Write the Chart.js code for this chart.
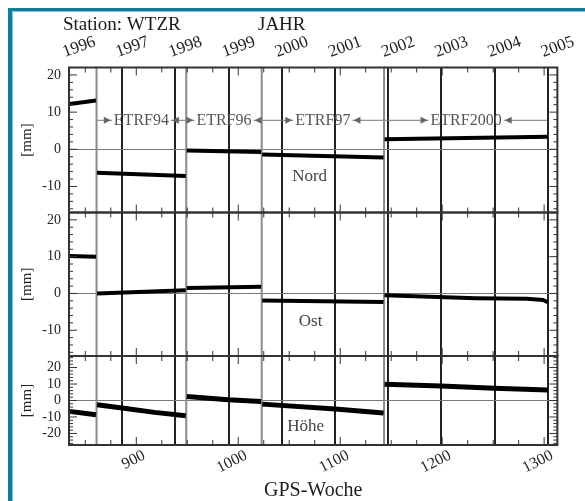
<!DOCTYPE html>
<html><head><meta charset="utf-8">
<script src="https://cdn.jsdelivr.net/npm/chart.js@4.4.0/dist/chart.umd.min.js"></script>
<style>
html,body{margin:0;padding:0;background:#fff;}
#wrap{position:relative;width:585px;height:501px;overflow:hidden;background:#fff;}
#frame{position:absolute;left:8px;top:8px;width:600px;height:520px;border-left:4px solid #137c98;border-top:3px solid #137c98;}
#frame2{position:absolute;left:12px;top:11px;width:600px;height:520px;border-left:1px solid #8cc3d4;border-top:1px solid #8cc3d4;}
canvas{position:absolute;left:0;top:0;}
</style></head><body>
<div id="wrap"><div id="frame"></div><div id="frame2"></div><canvas id="c" width="585" height="501"></canvas></div>
<script>
// ---- data ----
const yearLabels = ['1996','1997','1998','1999','2000','2001','2002','2003','2004','2005'];
const yearWeeks  = [834.1, 886.3, 938.4, 990.6, 1042.7, 1095.0, 1147.1, 1199.3, 1251.4, 1303.6];
const weekTicks  = [900, 1000, 1100, 1200, 1300];
const frameBreaks = [861, 949, 1023, 1143];
const frameNames  = ['ETRF94', 'ETRF96', 'ETRF97', 'ETRF2000'];
const frameEnd    = 1304;
const panelNames  = ['Nord', 'Ost', 'Höhe'];
const nordTicks  = [-10, 0, 10, 20];
const ostTicks   = [-10, 0, 10, 20];
const hoeheTicks = [-20, -10, 0, 10, 20];

const nordWeeks  = [834.5, 860.5, 861, 861.5, 948.5, 949, 949.5, 1022.5, 1023, 1023.5, 1142.5, 1143, 1143.5, 1303.5];
const nordValues = [12.2, 13.1, null, -6.3, -7.2, null, -0.3, -0.7, null, -1.4, -2.2, null, 2.7, 3.4];

const ostWeeks  = [834.5, 860.5, 861, 861.5, 948.5, 949, 949.5, 1022.5, 1023, 1023.5, 1142.5, 1143, 1143.5, 1233, 1283, 1299, 1303.5];
const ostValues = [10.2, 10.0, null, 0.0, 0.9, null, 1.5, 1.8, null, -1.9, -2.3, null, -0.5, -1.3, -1.45, -1.8, -2.4];

const hoeheWeeks  = [834.5, 860.5, 861, 861.5, 886, 918, 948.5, 949, 949.5, 990, 1022.5, 1023, 1023.5, 1095, 1142.5, 1143, 1143.5, 1199, 1251, 1303.5];
const hoeheValues = [-6.6, -8.6, null, -2.6, -4.6, -7.2, -9.2, null, 2.4, 0.4, -0.6, null, -2.2, -5.2, -7.6, null, 9.8, 8.8, 7.4, 6.4];

const serif = "'Liberation Serif', 'Times New Roman', serif";
const pts = (xs, ys) => xs.map((x, i) => ({x: x, y: ys[i]}));

function yScale(min, max, tickArr, weight) {
  return {
    type: 'linear', position: 'left', stack: 'panels', stackWeight: weight,
    min: min, max: max,
    afterBuildTicks: s => { s.ticks = tickArr.map(v => ({value: v})); },
    afterFit: s => { s.width = 69; },
    border: {display: false},
    grid: {drawTicks: false, lineWidth: 1,
      color: c => (c.tick && c.tick.value === 0) ? '#7a7a7a' : 'rgba(0,0,0,0)'},
    ticks: {autoSkip: false, padding: 8, color: '#222', font: {family: serif, size: 14},
      callback: v => String(v)},
    title: {display: true, text: '[mm]', color: '#222',
      font: {family: serif, size: 15, lineHeight: 1}, padding: {top: 20, bottom: 0}}
  };
}

const decor = {
  id: 'decor',
  beforeDatasetsDraw(chart) {
    const {ctx, chartArea: ca, scales} = chart;
    const x = scales.x, yN = scales.yN;
    ctx.save();
    // frame change lines
    ctx.strokeStyle = '#8a8a8a'; ctx.lineWidth = 2;
    frameBreaks.forEach(w => {
      const px = x.getPixelForValue(w);
      ctx.beginPath(); ctx.moveTo(px, ca.top); ctx.lineTo(px, ca.bottom); ctx.stroke();
    });
    // ETRF labels with arrows
    const ly = yN.getPixelForValue(7.8);
    ctx.font = '16px ' + serif; ctx.textBaseline = 'middle'; ctx.textAlign = 'center';
    frameNames.forEach((name, i) => {
      const a = x.getPixelForValue(frameBreaks[i]);
      const b = x.getPixelForValue(i + 1 < frameBreaks.length ? frameBreaks[i + 1] : frameEnd);
      const cx = (a + b) / 2;
      const tw = ctx.measureText(name).width;
      ctx.strokeStyle = '#777'; ctx.lineWidth = 1;
      ctx.beginPath(); ctx.moveTo(a + 1, ly); ctx.lineTo(cx - tw / 2 - 2, ly);
      ctx.moveTo(cx + tw / 2 + 2, ly); ctx.lineTo(b - 1, ly); ctx.stroke();
      ctx.fillStyle = '#666';
      const l = cx - tw / 2 - 3, r = cx + tw / 2 + 3;
      ctx.beginPath(); ctx.moveTo(l, ly); ctx.lineTo(l - 7, ly - 3.5); ctx.lineTo(l - 7, ly + 3.5); ctx.closePath(); ctx.fill();
      ctx.beginPath(); ctx.moveTo(r, ly); ctx.lineTo(r + 7, ly - 3.5); ctx.lineTo(r + 7, ly + 3.5); ctx.closePath(); ctx.fill();
      ctx.fillStyle = '#555';
      ctx.fillText(name, cx, ly + 1);
    });
    ctx.restore();
  },
  afterDatasetsDraw(chart) {
    const {ctx, chartArea: ca, scales} = chart;
    const x = scales.x;
    const panels = [scales.yN, scales.yO, scales.yH];
    ctx.save();
    ctx.strokeStyle = '#333'; ctx.lineWidth = 1;
    // x minor ticks (inward) on each panel edge
    panels.forEach(s => {
      for (let w = 850; w <= 1300; w += 25) {
        const px = x.getPixelForValue(w);
        const len = (w % 100 === 0) ? 8 : 5;
        ctx.beginPath();
        ctx.moveTo(px, s.top); ctx.lineTo(px, s.top + len);
        ctx.moveTo(px, s.bottom); ctx.lineTo(px, s.bottom - len);
        ctx.stroke();
      }
      // y minor ticks every 2 mm, left and right
      for (let v = Math.ceil(s.min / 2) * 2; v <= s.max; v += 2) {
        const py = s.getPixelForValue(v);
        const len = (v % 10 === 0) ? 8 : 4;
        ctx.beginPath();
        ctx.moveTo(ca.left, py); ctx.lineTo(ca.left + len, py);
        ctx.moveTo(ca.right, py); ctx.lineTo(ca.right - len, py);
        ctx.stroke();
      }
    });
    // panel frames
    ctx.lineWidth = 2; ctx.strokeStyle = '#333';
    panels.forEach(s => { ctx.strokeRect(ca.left, s.top, ca.right - ca.left, s.bottom - s.top); });
    // panel names
    ctx.fillStyle = '#444'; ctx.font = '17px ' + serif; ctx.textAlign = 'center'; ctx.textBaseline = 'middle';
    ctx.fillText(panelNames[0], x.getPixelForValue(1070), scales.yN.getPixelForValue(-7.2));
    ctx.fillText(panelNames[1], x.getPixelForValue(1071), scales.yO.getPixelForValue(-7.6));
    ctx.fillText(panelNames[2], x.getPixelForValue(1066), scales.yH.getPixelForValue(-16));
    // headings
    ctx.fillStyle = '#1a1a1a'; ctx.font = '19px ' + serif; ctx.textAlign = 'left';
    ctx.fillText('Station: WTZR', 63, 25);
    ctx.fillText('JAHR', 258, 25);
    ctx.restore();
  }
};

const lineStyle = {borderColor: '#000', borderWidth: 4, pointRadius: 0, spanGaps: false, tension: 0, fill: false};

new Chart(document.getElementById('c'), {
  type: 'line',
  data: {
    datasets: [
      Object.assign({label: 'Nord', data: pts(nordWeeks, nordValues), xAxisID: 'x', yAxisID: 'yN'}, lineStyle),
      Object.assign({label: 'Ost', data: pts(ostWeeks, ostValues), xAxisID: 'x', yAxisID: 'yO'}, lineStyle),
      Object.assign({label: 'Höhe', data: pts(hoeheWeeks, hoeheValues), xAxisID: 'x', yAxisID: 'yH'}, lineStyle, {borderWidth: 5})
    ]
  },
  options: {
    responsive: false, animation: false, devicePixelRatio: 1,
    layout: {padding: {left: 0, right: 13, top: 0, bottom: 0}},
    plugins: {legend: {display: false}, tooltip: {enabled: false}, title: {display: false}},
    scales: {
      x: {
        type: 'linear', position: 'bottom', min: 834, max: 1313,
        afterBuildTicks: s => { s.ticks = weekTicks.map(v => ({value: v})); },
        afterFit: s => { s.height = 56; },
        border: {display: false},
        grid: {display: false, drawTicks: false},
        ticks: {autoSkip: false, minRotation: 27, maxRotation: 27, padding: 1, labelOffset: 8,
          color: '#222', font: {family: serif, size: 16}, callback: v => String(v)},
        title: {display: true, text: 'GPS-Woche', color: '#222',
          font: {family: serif, size: 20, lineHeight: 1}, padding: {top: 0, bottom: 0}}
      },
      xTop: {
        type: 'linear', position: 'top', min: 834, max: 1313,
        afterBuildTicks: s => { s.ticks = yearWeeks.map(v => ({value: v})); },
        afterFit: s => { s.height = 67.5; },
        border: {display: false},
        grid: {drawTicks: false, color: '#222', lineWidth: 2},
        ticks: {autoSkip: false, minRotation: 20, maxRotation: 20, padding: 5, labelOffset: 1,
          color: '#222', font: {family: serif, size: 17},
          callback: (v, i) => yearLabels[i]}
      },
      yH: yScale(-27, 27, hoeheTicks, 89),
      yO: yScale(-17, 22, ostTicks, 143.5),
      yN: yScale(-17, 22, nordTicks, 145)
    }
  },
  plugins: [decor]
});
</script>
</body></html>
